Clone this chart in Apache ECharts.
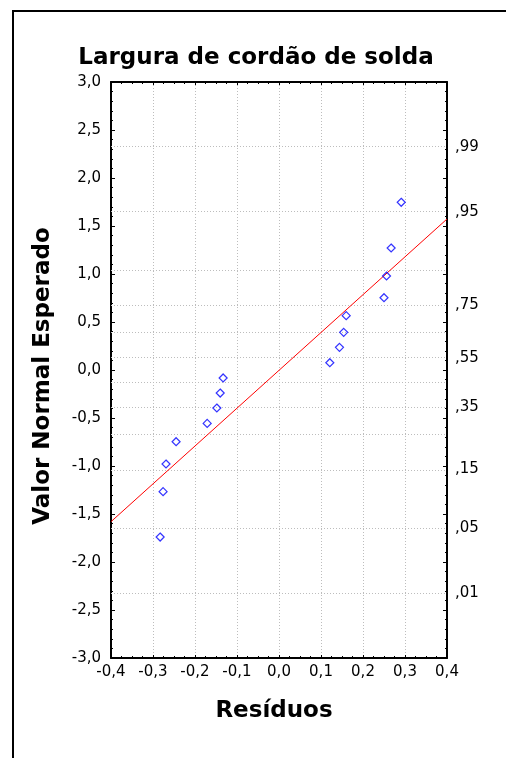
<!DOCTYPE html>
<html>
<head>
<meta charset="utf-8">
<script src="https://cdn.jsdelivr.net/npm/echarts@6/dist/echarts.min.js"></script>
<style>
html,body{margin:0;padding:0;background:#fff;}
#chart{width:506px;height:758px;}
</style>
</head>
<body>
<div id="chart"></div>
<script>
// Residuals (x) and expected normal values (y)
var residuals = [-0.283, -0.276, -0.269, -0.245, -0.171, -0.148, -0.140, -0.133, 0.121, 0.144, 0.154, 0.160, 0.250, 0.256, 0.267, 0.291];
var expectedNormal = [-1.740, -1.267, -0.979, -0.747, -0.556, -0.396, -0.240, -0.083, 0.076, 0.236, 0.392, 0.566, 0.753, 0.979, 1.271, 1.747];
// Fitted reference line end points
var fitX = [-0.4, 0.4];
var fitY = [-1.58, 1.573];
// Right axis: probability labels and their normal-score positions
var probLabels = [',01', ',05', ',15', ',35', ',55', ',75', ',95', ',99'];
var probZ = [-2.326, -1.645, -1.036, -0.385, 0.126, 0.674, 1.645, 2.326];
// Horizontal grid lines at probability levels (.01,.05,.15,...,.95,.99)
var gridZ = [-2.326, -1.645, -1.036, -0.674, -0.385, -0.126, 0.126, 0.385, 0.674, 1.036, 1.645, 2.326];

var titleText = 'Largura de cordão de solda';
var xName = 'Resíduos';
var yName = 'Valor Normal Esperado';

function fmt(v) { return v.toFixed(1).replace('.', ','); }

var chart = echarts.init(document.getElementById('chart'), null, {renderer: 'canvas'});
var FONT = 'DejaVu Sans';
var frameLine = {show: true, onZero: false, lineStyle: {color: '#000', width: 2}};
var tickStyle = {color: '#000', width: 1};

var option = {
  animation: false,
  backgroundColor: '#fff',
  grid: {left: 111, top: 82, width: 336, height: 576, containLabel: false},
  graphic: [
    {type: 'rect', shape: {x: 13, y: 11, width: 520, height: 780}, style: {fill: 'none', stroke: '#000', lineWidth: 2}, z: -10},
    {type: 'text', x: 256, y: 58, style: {text: titleText, font: 'bold 23px "DejaVu Sans"', fill: '#000', textAlign: 'center', textVerticalAlign: 'middle'}},
    {type: 'text', x: 274, y: 711, style: {text: xName, font: 'bold 23px "DejaVu Sans"', fill: '#000', textAlign: 'center', textVerticalAlign: 'middle'}},
    {type: 'text', x: 43, y: 376, rotation: Math.PI / 2, style: {text: yName, font: 'bold 23px "DejaVu Sans"', fill: '#000', textAlign: 'center', textVerticalAlign: 'middle'}}
  ],
  xAxis: [
    {
      type: 'value', position: 'bottom', min: -0.4, max: 0.4, interval: 0.1,
      axisLine: frameLine,
      axisTick: {show: true, inside: true, length: 3, lineStyle: tickStyle},
      minorTick: {show: true, splitNumber: 4, length: 2, lineStyle: tickStyle},
      splitLine: {show: true, lineStyle: {color: '#bdbdbd', type: [1, 2], width: 1}},
      axisLabel: {formatter: fmt, color: '#000', fontFamily: FONT, fontSize: 15, margin: 7}
    },
    {
      type: 'value', position: 'top', min: -0.4, max: 0.4, interval: 0.1,
      axisLine: frameLine,
      axisTick: {show: true, inside: true, length: 3, lineStyle: tickStyle},
      minorTick: {show: true, splitNumber: 4, length: 2, lineStyle: tickStyle},
      splitLine: {show: false},
      axisLabel: {show: false}
    }
  ],
  yAxis: [
    {
      type: 'value', position: 'left', min: -3, max: 3, interval: 0.5,
      axisLine: frameLine,
      axisTick: {show: true, inside: true, length: 4, lineStyle: tickStyle},
      minorTick: {show: true, splitNumber: 5, length: 2, lineStyle: tickStyle},
      splitLine: {show: false},
      axisLabel: {formatter: fmt, color: '#000', fontFamily: FONT, fontSize: 15, margin: 10}
    },
    {
      type: 'value', position: 'right', min: -3, max: 3, interval: 0.5,
      axisLine: frameLine,
      axisTick: {show: true, inside: true, length: 4, lineStyle: tickStyle},
      minorTick: {show: true, splitNumber: 5, length: 2, lineStyle: tickStyle},
      splitLine: {show: false},
      axisLabel: {
        customValues: probZ,
        formatter: function (v) {
          var i = probZ.indexOf(v);
          return i >= 0 ? probLabels[i] : '';
        },
        color: '#000', fontFamily: FONT, fontSize: 15, margin: 8
      }
    }
  ],
  series: [
    {
      type: 'line',
      xAxisIndex: 0, yAxisIndex: 0,
      data: fitX.map(function (x, i) { return [x, fitY[i]]; }),
      showSymbol: false, symbol: 'none',
      lineStyle: {color: '#ff0000', width: 1},
      z: 3,
      silent: true,
      markLine: {
        silent: true, symbol: ['none', 'none'], label: {show: false},
        lineStyle: {color: '#bdbdbd', type: [1, 2], width: 1},
        z: 1,
        data: gridZ.map(function (z) { return {yAxis: z}; })
      }
    },
    {
      type: 'scatter',
      xAxisIndex: 0, yAxisIndex: 0,
      data: residuals.map(function (x, i) { return [x, expectedNormal[i]]; }),
      symbol: 'diamond', symbolSize: 8,
      itemStyle: {color: 'rgba(0,0,0,0)', borderColor: '#0000ff', borderWidth: 1.2},
      z: 4
    }
  ]
};
chart.setOption(option);
</script>
</body>
</html>
